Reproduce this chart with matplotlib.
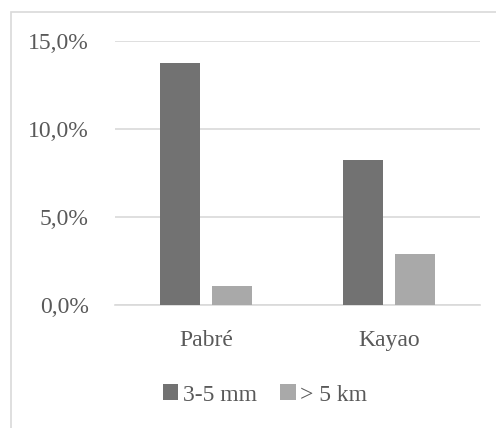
import numpy as np
import matplotlib.pyplot as plt
from matplotlib.patches import Rectangle
from matplotlib.ticker import FuncFormatter

# datos
sitios = ['Pabré', 'Kayao']
serie_nombres = ['3-5 mm', '> 5 km']
valores_3_5mm = [13.75, 8.24]
valores_5km = [1.08, 2.90]
y_ticks = [0, 5, 10, 15]

plt.rcParams['font.family'] = ['Liberation Serif', 'DejaVu Serif']
texto_color = '#595959'
colores = ['#727272', '#a9a9a9']

fig = plt.figure(figsize=(4.96, 4.28), dpi=100)
# marco del gráfico (recortado a la derecha y abajo)
fig.patches.append(Rectangle((10.5 / 496, -0.05), 1.2, 1 - 11.5 / 428 + 0.05,
                             transform=fig.transFigure, fill=False,
                             edgecolor='#d9d9d9', linewidth=1.2))

ax = fig.add_axes([115 / 496, 1 - 305 / 428, 365 / 496, 264 / 428])
x = np.arange(len(sitios))
ancho = 0.22
desp = 0.142
ax.bar(x - desp, valores_3_5mm, ancho, color=colores[0], label=serie_nombres[0], zorder=3)
ax.bar(x + desp, valores_5km, ancho, color=colores[1], label=serie_nombres[1], zorder=3)

ax.set_xlim(-0.5, 1.5)
ax.set_ylim(0, 15)
ax.set_yticks(y_ticks)
ax.yaxis.set_major_formatter(FuncFormatter(lambda v, p: f'{v:.1f}%'.replace('.', ',')))
ax.set_xticks(x)
ax.set_xticklabels(sitios)
ax.grid(axis='y', color='#d9d9d9', linewidth=1.2, zorder=0)
for s in ['top', 'right', 'left']:
    ax.spines[s].set_visible(False)
ax.spines['bottom'].set_color('#d9d9d9')
ax.spines['bottom'].set_linewidth(1.2)
ax.tick_params(axis='both', length=0, labelsize=17, colors=texto_color)
ax.tick_params(axis='y', pad=19)
ax.tick_params(axis='x', pad=18)

leg = fig.legend(loc='center', bbox_to_anchor=(265 / 496, 1 - 395 / 428), ncol=2,
                 frameon=False, fontsize=17, handlelength=0.65, handleheight=0.65,
                 handletextpad=0.2, columnspacing=1.0)
for t in leg.get_texts():
    t.set_color(texto_color)

fig.savefig('out.png', dpi=100)
